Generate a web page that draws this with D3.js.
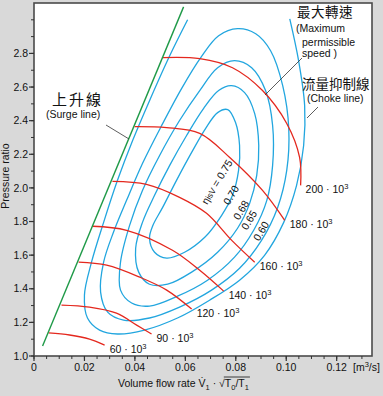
<!DOCTYPE html>
<html><head><meta charset="utf-8">
<script src="https://cdn.jsdelivr.net/npm/d3@7/dist/d3.min.js"></script>
<style>
html,body{margin:0;padding:0;background:#d9d9d9;}
svg{display:block;}
text{font-family:"Liberation Sans",Arial,sans-serif;fill:#111;}
.cjk{font-family:"Noto Sans CJK TC","Noto Sans CJK SC",sans-serif;}
</style></head><body>
<svg id="c" width="383" height="396"></svg>
<script>
// ---------- data ----------
const xTicks = [0, 0.02, 0.04, 0.06, 0.08, 0.10, 0.12];
const xTickLabels = ["0", "0.02", "0.04", "0.06", "0.08", "0.10", "0.12"];
const yTicks = [1.0, 1.2, 1.4, 1.6, 1.8, 2.0, 2.2, 2.4, 2.6, 2.8];
const yTickLabels = ["1.0", "1.2", "1.4", "1.6", "1.8", "2.0", "2.2", "2.4", "2.6", "2.8"];

const speedNames = ["60", "90", "120", "140", "160", "180", "200"];
const speed60  = [[0.0058,1.137],[0.0141,1.125],[0.0220,1.101],[0.0280,1.065]];
const speed90  = [[0.0109,1.303],[0.0220,1.291],[0.0327,1.255],[0.0407,1.184],[0.0466,1.131]];
const speed120 = [[0.0177,1.558],[0.0288,1.540],[0.0419,1.469],[0.0526,1.392],[0.0625,1.279]];
const speed140 = [[0.0232,1.772],[0.0367,1.748],[0.0549,1.629],[0.0657,1.510],[0.0752,1.386]];
const speed160 = [[0.0311,2.039],[0.0446,2.021],[0.0577,1.944],[0.0684,1.849],[0.0784,1.688],[0.0875,1.558]];
const speed180 = [[0.0399,2.365],[0.0526,2.359],[0.0657,2.324],[0.0776,2.181],[0.0906,1.985],[0.0994,1.807]];
const speed200 = [[0.0510,2.775],[0.0657,2.769],[0.0787,2.715],[0.0906,2.579],[0.1002,2.383],[0.1053,2.181],[0.1057,2.015]];

const surgeLine = [[0.0034,1.059],[0.0593,3.077]];

const effNames = ["0.75", "0.70", "0.68", "0.65", "0.60"];
const eff75 = [[0.0458,1.700],[0.0478,1.617],[0.0526,1.582],[0.0597,1.617],[0.0677,1.706],[0.0744,1.837],[0.0787,1.956],[0.0811,2.104],[0.0815,2.252],[0.0799,2.389],[0.0768,2.466],[0.0728,2.448],[0.0680,2.353],[0.0625,2.211],[0.0565,2.045],[0.0510,1.884],[0.0470,1.772]];
const eff70 = [[0.0403,1.641],[0.0415,1.499],[0.0458,1.427],[0.0530,1.427],[0.0625,1.499],[0.0728,1.617],[0.0807,1.760],[0.0855,1.908],[0.0883,2.074],[0.0891,2.252],[0.0875,2.442],[0.0835,2.567],[0.0783,2.608],[0.0732,2.579],[0.0672,2.472],[0.0605,2.312],[0.0538,2.134],[0.0478,1.956],[0.0430,1.795]];
const eff68 = [[0.0343,1.558],[0.0343,1.392],[0.0387,1.315],[0.0458,1.297],[0.0569,1.356],[0.0688,1.451],[0.0795,1.588],[0.0871,1.748],[0.0923,1.926],[0.0946,2.134],[0.0946,2.371],[0.0918,2.579],[0.0863,2.715],[0.0795,2.757],[0.0728,2.715],[0.0657,2.579],[0.0577,2.401],[0.0498,2.193],[0.0430,1.985],[0.0379,1.777]];
const eff65 = [[0.0276,1.558],[0.0264,1.380],[0.0292,1.261],[0.0355,1.214],[0.0458,1.226],[0.0577,1.291],[0.0704,1.392],[0.0815,1.522],[0.0902,1.688],[0.0966,1.884],[0.1002,2.104],[0.1010,2.353],[0.0986,2.608],[0.0938,2.816],[0.0879,2.917],[0.0807,2.947],[0.0732,2.905],[0.0661,2.775],[0.0585,2.591],[0.0506,2.371],[0.0430,2.145],[0.0367,1.926],[0.0315,1.736]];
const eff60 = [[0.0609,3.000],[0.0538,2.786],[0.0458,2.519],[0.0391,2.282],[0.0331,2.045],[0.0276,1.795],[0.0228,1.558],[0.0200,1.362],[0.0212,1.226],[0.0260,1.154],[0.0331,1.131],[0.0438,1.154],[0.0569,1.226],[0.0696,1.332],[0.0815,1.451],[0.0914,1.599],[0.0990,1.795],[0.1041,2.015],[0.1069,2.252],[0.1073,2.490],[0.1049,2.757],[0.1014,3.006]];

// ---------- layout ----------
const svg = d3.select("#c");
const L = 34, R = 372, T = 3, B = 356;
const x = d3.scaleLinear().domain([0, 0.134]).range([L, R]);
const y = d3.scaleLinear().domain([1.0, 3.1]).range([B, T]);

svg.append("rect").attr("x", L).attr("y", T).attr("width", R - L).attr("height", B - T)
  .attr("fill", "#fff");

const blue = "#22a6df", red = "#e4281e", green = "#1f9a48";
const lineO = d3.line().x(d => x(d[0])).y(d => y(d[1])).curve(d3.curveCatmullRom.alpha(0.5));
const lineC = d3.line().x(d => x(d[0])).y(d => y(d[1])).curve(d3.curveCatmullRomClosed.alpha(0.5));

const g = svg.append("g");
[eff75, eff70, eff68, eff65].forEach(c => {
  g.append("path").attr("d", lineC(c)).attr("fill", "none").attr("stroke", blue).attr("stroke-width", 1.3);
});
g.append("path").attr("d", lineO(eff60)).attr("fill", "none").attr("stroke", blue).attr("stroke-width", 1.3);

const speeds = [speed60, speed90, speed120, speed140, speed160, speed180, speed200];
speeds.forEach(s => {
  g.append("path").attr("d", lineO(s)).attr("fill", "none").attr("stroke", red).attr("stroke-width", 1.3);
});
g.append("path").attr("d", d3.line().x(d => x(d[0])).y(d => y(d[1]))(surgeLine))
  .attr("fill", "none").attr("stroke", green).attr("stroke-width", 1.4);

speeds.forEach((s, i) => {
  const e = s[s.length - 1];
  const t = g.append("text").attr("x", x(e[0]) + 5).attr("y", y(e[1]) + 8)
    .attr("font-size", 10.5);
  t.append("tspan").text(speedNames[i] + " · 10");
  t.append("tspan").attr("font-size", 7.5).attr("dy", -4).text("3");
});

const effPos = [[217,182],[231,195],[241,210],[249,220],[261,231]];
effNames.forEach((n, i) => {
  const t = g.append("text").attr("transform", `translate(${effPos[i][0]},${effPos[i][1]}) rotate(-59)`)
    .attr("text-anchor", "middle").attr("dy", "0.35em").attr("font-size", 10.5);
  if (i === 0) {
    t.append("tspan").text("η");
    t.append("tspan").attr("font-size", 8.5).text("isV");
    t.append("tspan").text(" = " + n);
  } else t.text(n);
});

svg.append("rect").attr("x", L).attr("y", T).attr("width", R - L).attr("height", B - T)
  .attr("fill", "none").attr("stroke", "#4a4a4a").attr("stroke-width", 1.6);

const xMinor = d3.range(0, 0.1335, 0.005);
xMinor.forEach(v => {
  svg.append("line").attr("x1", x(v)).attr("x2", x(v)).attr("y1", B).attr("y2", B + 3)
    .attr("stroke", "#333").attr("stroke-width", 1);
});
xTicks.forEach((v, i) => {
  svg.append("line").attr("x1", x(v)).attr("x2", x(v)).attr("y1", B).attr("y2", B + 5)
    .attr("stroke", "#333").attr("stroke-width", 1.2);
  svg.append("text").attr("x", x(v)).attr("y", B + 15).attr("text-anchor", "middle")
    .attr("font-size", 10.5).text(xTickLabels[i]);
});
const yMinor = d3.range(1.0, 3.05, 0.1);
yMinor.forEach(v => {
  svg.append("line").attr("x1", L - 3).attr("x2", L).attr("y1", y(v)).attr("y2", y(v))
    .attr("stroke", "#333").attr("stroke-width", 1);
});
yTicks.forEach((v, i) => {
  svg.append("line").attr("x1", L - 5).attr("x2", L).attr("y1", y(v)).attr("y2", y(v))
    .attr("stroke", "#333").attr("stroke-width", 1.2);
  svg.append("text").attr("x", L - 6).attr("y", y(v)).attr("dy", "0.35em").attr("text-anchor", "end")
    .attr("font-size", 10.5).text(yTickLabels[i]);
});

svg.append("text").attr("transform", "translate(8.5,176) rotate(-90)").attr("text-anchor", "middle")
  .attr("font-size", 10.5).text("Pressure ratio");
svg.append("text").attr("x", 353).attr("y", 371).attr("font-size", 10.5)
  .html('[m<tspan font-size="7.5" dy="-4">3</tspan><tspan dy="4">/s]</tspan>');

const xt = svg.append("text").attr("x", 118).attr("y", 387).attr("font-size", 10.5);
xt.append("tspan").text("Volume flow rate V̇");
xt.append("tspan").attr("font-size", 7.5).attr("dy", 3).text("1");
xt.append("tspan").attr("dy", -3).text(" · √");
const rootStart = xt.node().getComputedTextLength();
xt.append("tspan").text("T");
xt.append("tspan").attr("font-size", 7.5).attr("dy", 3).text("0");
xt.append("tspan").attr("dy", -3).text("/T");
xt.append("tspan").attr("font-size", 7.5).attr("dy", 3).text("1");
const total = xt.node().getComputedTextLength();
svg.append("line").attr("x1", 118 + rootStart - 1).attr("x2", 118 + total + 1)
  .attr("y1", 377).attr("y2", 377).attr("stroke", "#111").attr("stroke-width", 0.8);

function lead(x1, y1, x2, y2) {
  svg.append("line").attr("x1", x1).attr("y1", y1).attr("x2", x2).attr("y2", y2)
    .attr("stroke", "#333").attr("stroke-width", 0.8);
}
lead(302, 58, 265, 95);
lead(318, 107, 307, 118);
lead(106, 125, 129, 139);

svg.append("text").attr("class", "cjk").attr("x", 297).attr("y", 17).attr("font-size", 13.5)
  .attr("letter-spacing", 0.5).text("最大轉速");
svg.append("text").attr("x", 296).attr("y", 32).attr("font-size", 10.5).text("(Maximum");
svg.append("text").attr("x", 302).attr("y", 46).attr("font-size", 10.5).text("permissible");
svg.append("text").attr("x", 302).attr("y", 57).attr("font-size", 10.5).text("speed )");

svg.append("text").attr("class", "cjk").attr("x", 302).attr("y", 89).attr("font-size", 13.5)
  .text("流量抑制線");
svg.append("text").attr("x", 307).attr("y", 102).attr("font-size", 10.5).text("(Choke line)");

svg.append("text").attr("class", "cjk").attr("x", 52).attr("y", 105).attr("font-size", 15)
  .attr("letter-spacing", 2).text("上升線");
svg.append("text").attr("x", 46).attr("y", 118).attr("font-size", 10.5).text("(Surge line)");
</script>
</body></html>
